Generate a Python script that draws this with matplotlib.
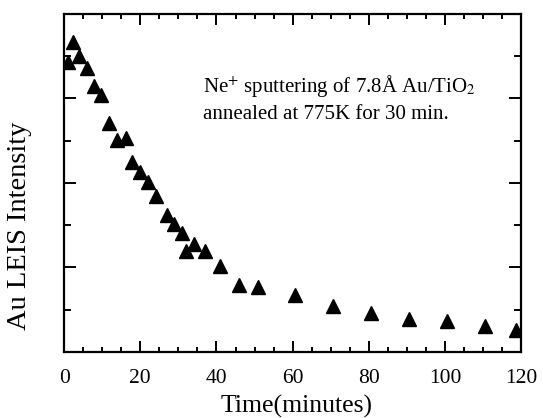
import matplotlib.pyplot as plt
from matplotlib.ticker import MultipleLocator

# Au LEIS intensity vs sputtering time
tempo = [1.0, 2.4, 4.0, 6.1, 7.9, 9.7, 11.9, 13.9, 16.2, 17.8, 19.8, 21.9, 24.0,
         26.9, 28.8, 30.9, 31.9, 34.0, 36.9, 40.8, 45.8, 50.8, 60.7, 70.7, 80.6,
         90.5, 100.4, 110.5, 118.6]
intensidade = [6.87, 7.34, 6.99, 6.72, 6.30, 6.09, 5.41, 5.02, 5.06, 4.49, 4.26,
               4.01, 3.68, 3.25, 3.03, 2.81, 2.38, 2.56, 2.38, 2.04, 1.59, 1.54,
               1.35, 1.08, 0.92, 0.77, 0.73, 0.61, 0.53]

xticks = [0, 20, 40, 60, 80, 100, 120]
linha1 = 'Ne$^{+}$ sputtering of 7.8Å Au/TiO$_2$'
linha2 = 'annealed at 775K for 30 min.'

plt.rcParams['font.family'] = ['Liberation Serif', 'DejaVu Serif']
plt.rcParams['mathtext.fontset'] = 'stix'

fig = plt.figure(figsize=(5.43, 4.18), dpi=100)
ax = fig.add_axes([0.118, 0.158, 0.842, 0.809])

ax.plot(tempo, intensidade, linestyle='none', marker='^', color='black',
        markersize=9.5)

ax.set_xlim(0, 120)
ax.set_ylim(0, 8)
ax.set_xticks(xticks)
ax.xaxis.set_minor_locator(MultipleLocator(5))
ax.yaxis.set_major_locator(MultipleLocator(2))
ax.yaxis.set_minor_locator(MultipleLocator(1))
ax.set_yticklabels([])

ax.tick_params(axis='both', which='both', direction='in', top=True, right=True,
               width=1.4, labelsize=15.5, pad=12)
ax.tick_params(axis='x', which='major', length=8)
ax.tick_params(axis='x', which='minor', length=3.5)
ax.tick_params(axis='y', which='major', length=8.5)
ax.tick_params(axis='y', which='minor', length=5)

for s in ax.spines.values():
    s.set_linewidth(1.6)

ax.set_xlabel('Time(minutes)', fontsize=18.5)
ax.xaxis.set_label_coords(0.508, -0.127)
ax.set_ylabel('Au LEIS Intensity', fontsize=20.5)
ax.yaxis.set_label_coords(-0.07, 0.373)

ax.text(36.5, 6.15, linha1, fontsize=15, va='baseline')
ax.text(36.5, 5.51, linha2, fontsize=15, va='baseline')

fig.savefig('out.png', dpi=100)
